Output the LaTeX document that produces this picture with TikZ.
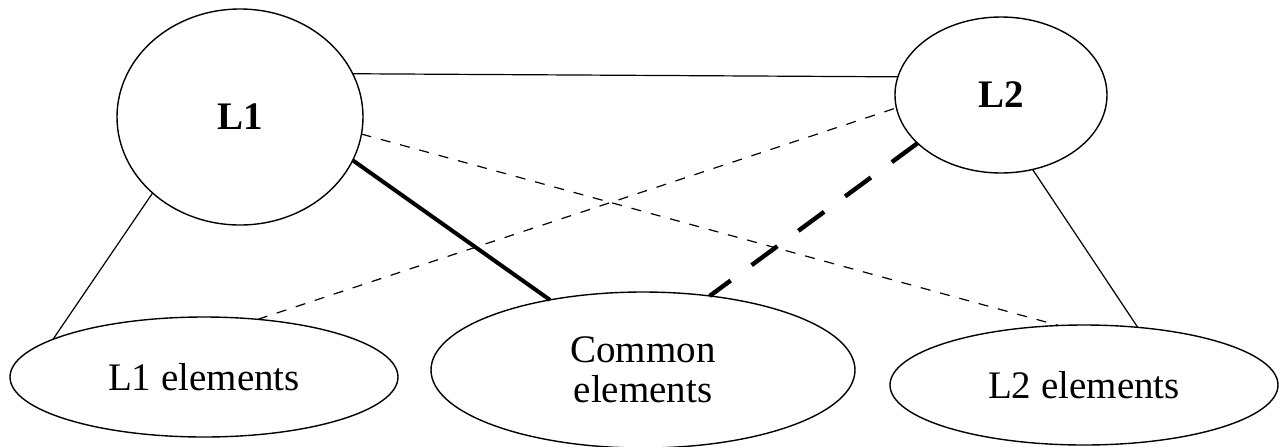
\documentclass[tikz,border=0pt]{standalone}
\usepackage{fontspec}
\setmainfont{Liberation Serif}
\usepackage{tikz}
\usetikzlibrary{shapes.geometric}

\begin{document}
\begin{tikzpicture}[x=0.5pt, y=-0.5pt, font=\fontsize{19.5}{20}\selectfont,
        main/.style = {draw, ellipse, line width=0.7pt, inner sep=0pt, outer sep=0pt, align=center},
        link/.style = {line width=0.6pt},
        linkdash/.style = {line width=0.6pt, dash pattern=on 5pt off 5pt},
        strong/.style = {line width=2pt},
        strongdash/.style = {line width=2.2pt, dash pattern=on 16pt off 13pt}]
            \useasboundingbox (0,0) rectangle (1287,446);

            \node[main, minimum width=123pt, minimum height=108pt] (L1) at (240,117) {\bfseries L1};
            \node[main, minimum width=106pt, minimum height=78pt] (L2) at (1001,95) {\bfseries L2};
            \node[main, minimum width=194pt, minimum height=60pt] (L1el) at (204,377) {L1 elements};
            \node[main, minimum width=212pt, minimum height=78pt] (Com) at (643,370) {Common\\elements};
            \node[main, minimum width=194pt, minimum height=60pt] (L2el) at (1084,385) {L2 elements};

            \path[link] (L1.21) edge (L2.170);
            \path[link] (L1.221) edge (L1el.166);
            \path[link] (L2.-67) edge (L2el.47);
            \path[linkdash] (L1.-8) edge (L2el.113);
            \path[linkdash] (L1el.47) edge (L2.187);
            \path[strong] (L1.-21) edge (Com.143);
            \path[strongdash] (L2.210) edge (Com.48);
        \end{tikzpicture}
\end{document}
